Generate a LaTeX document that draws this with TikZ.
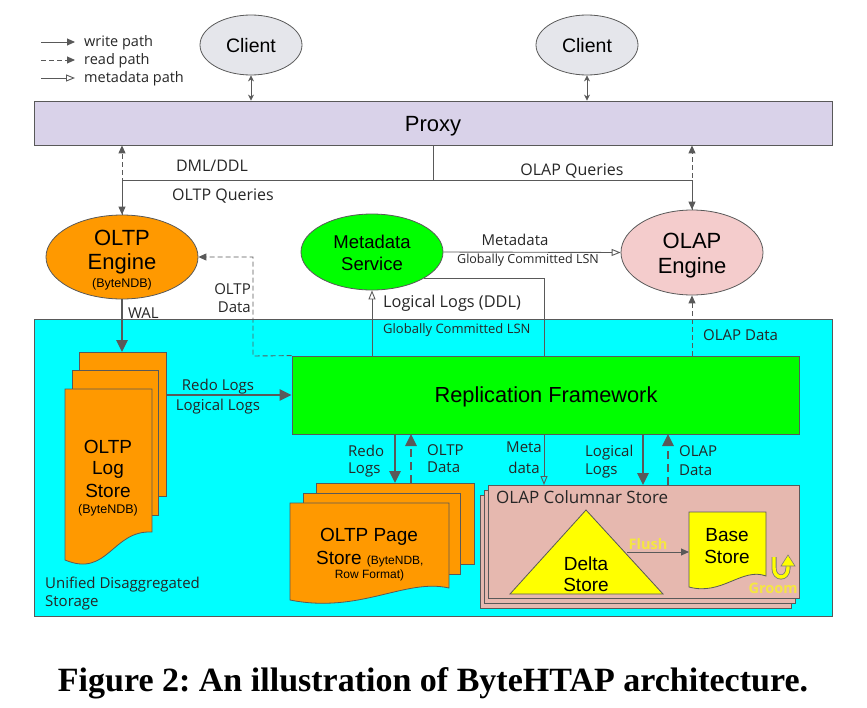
\documentclass[tikz,border=0pt]{standalone}
\usepackage{fontspec}
\setmainfont{Liberation Sans}
\newfontfamily\labfont{Open Sans}
\newfontfamily\capfont{Liberation Serif}
\usetikzlibrary{arrows.meta,shapes.geometric}
\definecolor{ln}{HTML}{595959}
\definecolor{txt}{HTML}{262626}
\definecolor{proxyc}{HTML}{D9D2E9}
\definecolor{clientc}{HTML}{E5E6EB}
\definecolor{orangec}{HTML}{FF9900}
\definecolor{greenc}{HTML}{00FF00}
\definecolor{pinkc}{HTML}{F4CCCC}
\definecolor{cyanc}{HTML}{00FFFF}
\definecolor{colc}{HTML}{E6B8AF}
\definecolor{yelc}{HTML}{FFFF00}
\definecolor{yeltxt}{HTML}{F5E642}
\newcommand\fs[2]{\fontsize{#1}{#2}\selectfont}
\frenchspacing
\begin{document}
\begin{tikzpicture}[x=1pt,y=-1pt,
  shapebox/.style={draw=ln, line width=0.8pt, inner sep=0pt},
  ell/.style={ellipse, draw=ln, line width=0.8pt, inner sep=0pt},
  thinln/.style={draw=ln, line width=0.9pt},
  tw/.style={draw=ln, line width=0.9pt, -{Triangle[length=8pt,width=7pt]}},
  tr/.style={draw=ln, line width=0.9pt, dash pattern=on 5pt off 3pt, -{Triangle[length=8pt,width=7pt]}},
  tm/.style={draw=ln, line width=0.9pt, -{Triangle[open,length=9pt,width=7pt]}},
  hw/.style={draw=ln, line width=2.6pt, -{Triangle[length=12pt,width=11pt]}},
  hr/.style={draw=ln, line width=2.6pt, dash pattern=on 8pt off 5pt, -{Triangle[length=12pt,width=11pt]}},
  dbl/.style={draw=ln, line width=0.8pt, {Stealth[length=6pt,width=6pt]}-{Stealth[length=6pt,width=6pt]}},
  lab/.style={inner sep=0pt, text=txt, font=\labfont\fs{15}{18}},
  big/.style={inner sep=0pt, text=black, font=\fs{19}{22}},
]
\useasboundingbox (0,0) rectangle (867,707);

% legend
\coordinate (l1a) at (41,42); \coordinate (l1b) at (75,42);
\coordinate (l2a) at (41,60); \coordinate (l2b) at (75,60);
\coordinate (l3a) at (41,78); \coordinate (l3b) at (75,78);
\draw[tw] (l1a) -- (l1b);
\draw[tr] (l2a) -- (l2b);
\draw[tm] (l3a) -- (l3b);
\node[lab, anchor=base west, font=\labfont\fs{14.5}{16}] (lg1) at (84,46.5) {write path};
\node[lab, anchor=base west, font=\labfont\fs{14.5}{16}] (lg2) at (84,64.5) {read path};
\node[lab, anchor=base west, font=\labfont\fs{14.5}{16}] (lg3) at (84,82.5) {metadata path};

% proxy and clients
\node[shapebox, fill=proxyc, minimum width=798pt, minimum height=44pt] (proxy) at (433,123) {};
\node[big, anchor=base, font=\fs{22}{26}] (proxyt) at (433,131) {Proxy};
\node[ell, fill=clientc, minimum width=102pt, minimum height=60pt] (c1) at (251,45) {};
\node[ell, fill=clientc, minimum width=102pt, minimum height=60pt] (c2) at (587,45) {};
\node[big, anchor=base, font=\fs{19.5}{22}] (c1t) at (251,52) {Client};
\node[big, anchor=base, font=\fs{19.5}{22}] (c2t) at (587,52) {Client};
\draw[dbl] (c1.south) -- (c1.south |- proxy.north);
\draw[dbl] (c2.south) -- (c2.south |- proxy.north);

% storage region
\node[shapebox, fill=cyanc, minimum width=798pt, minimum height=297pt] (store) at (433,467.5) {};
\node[lab, anchor=base west] (uds1) at (45,588) {Unified Disaggregated};
\node[lab, anchor=base west] (uds2) at (45,606) {Storage};

% engines and metadata service
\node[ell, fill=orangec, minimum width=152pt, minimum height=84pt] (oltp) at (122,257) {};
\node[big, anchor=base, font=\fs{22}{26}] (oltpt1) at (122,245) {OLTP};
\node[big, anchor=base, font=\fs{22}{26}] (oltpt2) at (122,269) {Engine};
\node[big, anchor=base, font=\fs{12.5}{14}] (oltpt3) at (122,287.5) {(ByteNDB)};
\node[ell, fill=greenc, minimum width=142pt, minimum height=76pt] (meta) at (372,252) {};
\node[big, anchor=base, font=\fs{18.5}{22}] (metat1) at (372,248.5) {Metadata};
\node[big, anchor=base, font=\fs{18.5}{22}] (metat2) at (372,270) {Service};
\node[ell, fill=pinkc, minimum width=142pt, minimum height=85pt] (olap) at (692,252.5) {};
\node[big, anchor=base, font=\fs{22}{26}] (olapt1) at (692,248) {OLAP};
\node[big, anchor=base, font=\fs{22}{26}] (olapt2) at (692,273) {Engine};

% proxy connections
\coordinate (jM) at (433,180);
\coordinate (jL) at (122,180);
\coordinate (jR) at (692,180);
\draw[tr] (oltp.north) -- (oltp.north |- proxy.south);
\draw[tr] (olap.north) -- (olap.north |- proxy.south);
\draw[thinln] (proxy.south) -- (jM);
\draw[thinln] (jL) -- (jR);
\draw[tw] (jL) -- (oltp.north);
\draw[tw] (jR) -- (olap.north);
\node[lab, font=\labfont\fs{16}{19}, anchor=base] (dml) at (212,171) {DML/DDL};
\node[lab, font=\labfont\fs{16}{19}, anchor=base] (oltpq) at (223,200) {OLTP Queries};
\node[lab, font=\labfont\fs{16}{19}, anchor=base] (olapq) at (572,175) {OLAP Queries};

% replication framework
\node[shapebox, fill=greenc, minimum width=507pt, minimum height=78pt] (repl) at (545.5,395) {};
\node[big, anchor=base, font=\fs{21.8}{26}] (replt) at (546,402.5) {Replication Framework};

% metadata arrow
\draw[tm] (meta.east) -- (olap.west);
\node[lab, anchor=base] (mdl) at (515,245) {Metadata};
\node[lab, anchor=base, font=\labfont\fs{12.5}{14}] (gcl1) at (528,263.5) {Globally Committed LSN};

% replication <-> metadata service
\coordinate (rm1) at (372,356);
\coordinate (rm2) at (544,356);
\draw[tm] (rm1) -- (meta.south);
\draw[thinln] (rm2) |- (meta.-27);
\node[lab, anchor=base west, font=\labfont\fs{16.3}{19}] (lld) at (383,307.5) {Logical Logs (DDL)};
\node[lab, anchor=base west, font=\labfont\fs{13}{15}] (gcl2) at (383,333.5) {Globally Committed LSN};

% OLTP data (read) to OLTP engine
\coordinate (od1) at (253,356);
\draw[tr] (repl.north west) -- (od1) |- (oltp.east);
\node[lab, anchor=base east] (odt1) at (251,294) {OLTP};
\node[lab, anchor=base east] (odt2) at (251,312) {Data};

% OLAP data to OLAP engine
\coordinate (oa1) at (692,356);
\draw[tr] (oa1) -- (olap.south);
\node[lab, anchor=base west] (oat) at (703,340) {OLAP Data};

% OLTP log store
\filldraw[fill=orangec, draw=ln, line width=0.8pt] (79,352) rectangle (166,496);
\filldraw[fill=orangec, draw=ln, line width=0.8pt] (72,370) rectangle (158,515);
\filldraw[fill=orangec, draw=ln, line width=0.8pt] (65,389) -- (152,389) -- (152,532)
   .. controls (112,530) and (108,578) .. (65,560) -- cycle;
\coordinate (lsTop) at (122,352);
\coordinate (lsRight) at (166,395);
\node[big, anchor=base] (lst1) at (108,453) {OLTP};
\node[big, anchor=base] (lst2) at (108,474) {Log};
\node[big, anchor=base] (lst3) at (108,497) {Store};
\node[big, anchor=base, font=\fs{12.5}{14}] (lst4) at (108,513.5) {(ByteNDB)};

% WAL
\draw[hw] (oltp.south) -- (lsTop);
\node[lab, anchor=base west] (walt) at (128,318) {WAL};

% redo/logical logs to replication
\draw[hw] (lsRight) -- (repl.west);
\node[lab, anchor=base] (rl1) at (218,390) {Redo Logs};
\node[lab, anchor=base] (rl2) at (218,410) {Logical Logs};

% OLTP page store
\filldraw[fill=orangec, draw=ln, line width=0.8pt] (316,483) rectangle (474,564);
\filldraw[fill=orangec, draw=ln, line width=0.8pt] (303,493) rectangle (460,574);
\filldraw[fill=orangec, draw=ln, line width=0.8pt] (290,503) -- (449,503) -- (449,588)
   .. controls (405,578) and (360,614) .. (290,600) -- cycle;
\coordinate (psA) at (395,483);
\coordinate (psB) at (411,483);
\node[big, anchor=base] (pst1) at (369,541) {OLTP Page};
\node[big, anchor=base west] (pst2) at (316,564) {Store {\fs{12}{14}(ByteNDB,}};
\node[big, anchor=base, font=\fs{12}{14}] (pst3) at (369.5,578) {Row Format)};

% OLAP columnar store
\filldraw[fill=colc, draw=ln, line width=0.8pt] (480,495) rectangle (791,608);
\filldraw[fill=colc, draw=ln, line width=0.8pt] (484,490) rectangle (795,603);
\node[shapebox, fill=colc, minimum width=311pt, minimum height=113pt] (col) at (643.5,541.5) {};
\node[lab, anchor=base west, font=\labfont\fs{17}{19}] (colt) at (496,503.5) {OLAP Columnar Store};

% delta store
\filldraw[fill=yelc, draw=ln, line width=0.8pt] (586,510) -- (663,594) -- (510,594) -- cycle;
\node[big, anchor=base] (dst1) at (586,570) {Delta};
\node[big, anchor=base] (dst2) at (586,591) {Store};
\coordinate (dsE) at (627,552);

% base store
\filldraw[fill=yelc, draw=ln, line width=0.8pt] (689,512) -- (766,512) -- (766,576)
   .. controls (742,567) and (722,596) .. (689,587) -- cycle;
\node[big, anchor=base] (bst1) at (727,541) {Base};
\node[big, anchor=base] (bst2) at (727,563) {Store};
\coordinate (bsW) at (689,552);
\draw[tw] (dsE) -- (bsW);
\node[inner sep=0pt, anchor=base, text=yeltxt, font=\labfont\bfseries\fs{14.5}{16}] (flt) at (648,549) {Flush};

% groom
\coordinate (gr1) at (774,557);
\coordinate (gr2) at (788,557);
\draw[draw=ln!80, line width=5pt] (gr1) -- (774,568) .. controls (774,580) and (788,580) .. (788,568) -- (788,566);
\draw[draw=yelc, line width=3.4pt] (gr1) -- (774,568) .. controls (774,580) and (788,580) .. (788,568) -- (788,566);
\filldraw[fill=yelc, draw=ln!80, line width=0.6pt] (781,566) -- (788,555) -- (795,566) -- cycle;
\node[inner sep=0pt, anchor=base, text=yeltxt, font=\labfont\bfseries\fs{14.5}{16}] (grt) at (773,593) {Groom};

% arrows between replication and stores
\coordinate (r395) at (395,434);
\coordinate (r411) at (411,434);
\coordinate (r544) at (544,434);
\coordinate (r643) at (643,434);
\coordinate (r668) at (668,434);
\coordinate (c544) at (544,485);
\coordinate (c643) at (643,485);
\coordinate (c668) at (668,485);
\draw[hw] (r395) -- (psA);
\draw[hr] (psB) -- (r411);
\draw[tm] (r544) -- (c544);
\draw[hw] (r643) -- (c643);
\draw[hr] (c668) -- (r668);
\node[lab, anchor=base west] (rdl1) at (348,456) {Redo};
\node[lab, anchor=base west] (rdl2) at (348,473) {Logs};
\node[lab, anchor=base west] (otd1) at (427,455) {OLTP};
\node[lab, anchor=base west] (otd2) at (427,472) {Data};
\node[lab, anchor=base] (mtd1) at (524,452) {Meta};
\node[lab, anchor=base] (mtd2) at (524,473) {data};
\node[lab, anchor=base west] (lgl1) at (585,456) {Logical};
\node[lab, anchor=base west] (lgl2) at (585,474) {Logs};
\node[lab, anchor=base west] (oad1) at (679,456) {OLAP};
\node[lab, anchor=base west] (oad2) at (679,475) {Data};

% caption
\node[inner sep=0pt, anchor=base, font=\capfont\bfseries\fs{34}{38}] (cap) at (433,691) {Figure 2: An illustration of ByteHTAP architecture.};
\end{tikzpicture}
\end{document}
